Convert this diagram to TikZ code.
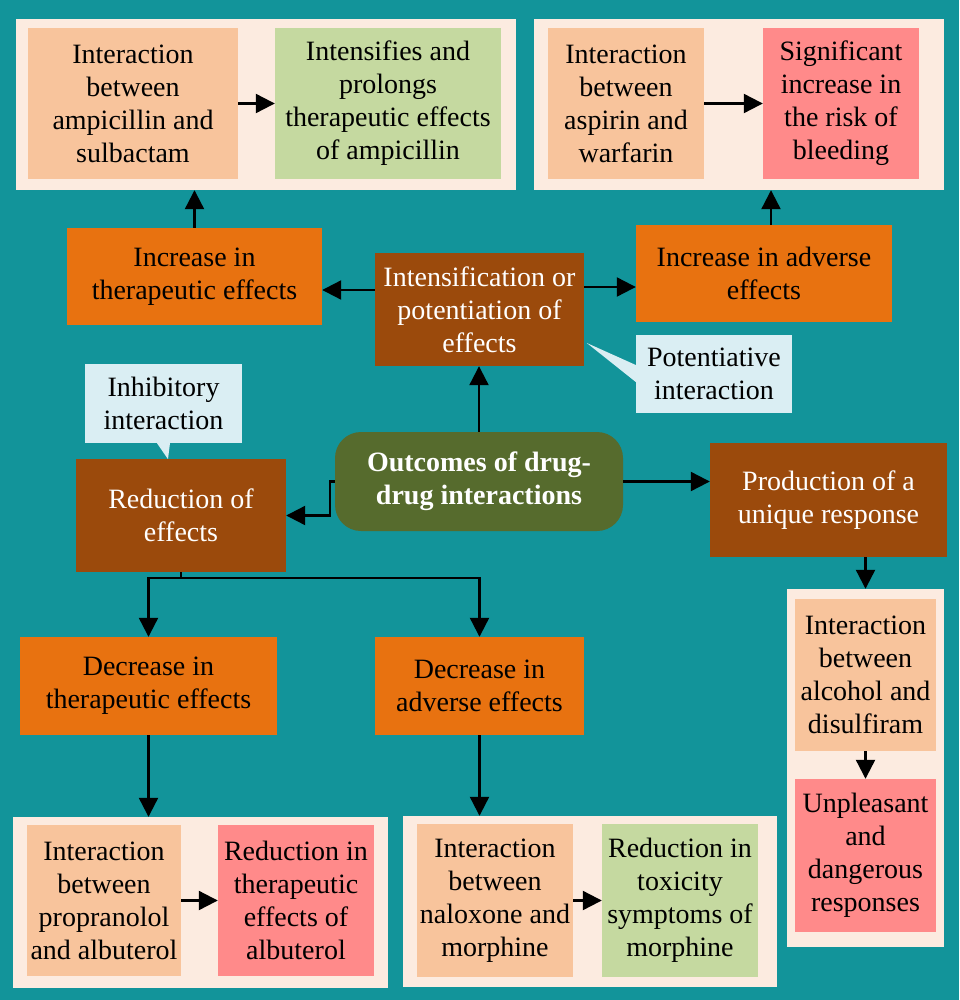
\documentclass[tikz,border=0pt]{standalone}
\usepackage{fontspec}
\setmainfont{Liberation Serif}
\usetikzlibrary{arrows.meta}
\definecolor{bgteal}{RGB}{18,148,154}
\definecolor{cream}{RGB}{252,235,224}
\definecolor{peach}{RGB}{248,196,156}
\definecolor{lgreen}{RGB}{197,217,160}
\definecolor{lpink}{RGB}{255,138,138}
\definecolor{orng}{RGB}{232,114,16}
\definecolor{brwn}{RGB}{155,74,12}
\definecolor{olive}{RGB}{86,107,45}
\definecolor{lblue}{RGB}{218,238,243}
\tikzset{
  base/.style={inner sep=0pt, align=center, font=\fontsize{28}{33}\selectfont},
  panel/.style={base, fill=cream},
  peachbox/.style={base, fill=peach, text=black},
  greenbox/.style={base, fill=lgreen, text=black},
  pinkbox/.style={base, fill=lpink, text=black},
  orangebox/.style={base, fill=orng, text=black},
  brownbox/.style={base, fill=brwn, text=white},
  centerbox/.style={base, fill=olive, text=white, rounded corners=26pt, font=\fontsize{28}{33}\selectfont\bfseries},
  callout/.style={base, fill=lblue, text=black},
  arr/.style={line width=2.2pt, -{Triangle[length=19pt,width=19pt]}},
  conn/.style={line width=2.2pt}
}
\begin{document}
\begin{tikzpicture}[x=1pt,y=-1pt]
\useasboundingbox (0,0) rectangle (959,1000);
\fill[bgteal] (0,0) rectangle (959,1000);

% panels
\node[panel, minimum width=500pt, minimum height=171pt] (P1) at (266,104.5) {};
\node[panel, minimum width=410pt, minimum height=171pt] (P2) at (739,104.5) {};
\node[panel, minimum width=157pt, minimum height=358pt] (P3) at (865.5,768) {};
\node[panel, minimum width=375pt, minimum height=171pt] (P4) at (200.5,902.5) {};
\node[panel, minimum width=374pt, minimum height=171pt] (P5) at (590,901.5) {};

% top-left panel
\node[peachbox, minimum width=210pt, minimum height=151pt] (a1) at (133,103.5) {Interaction\\between\\ampicillin and\\sulbactam};
\node[greenbox, minimum width=226pt, minimum height=151pt] (a2) at (388,103.5) {Intensifies and\\prolongs\\therapeutic effects\\of ampicillin};
% top-right panel
\node[peachbox, minimum width=156pt, minimum height=151pt] (b1) at (626,103.5) {Interaction\\between\\aspirin and\\warfarin};
\node[pinkbox, minimum width=156pt, minimum height=151pt] (b2) at (841,103.5) {Significant\\increase in\\the risk of\\bleeding};

% second row
\node[orangebox, minimum width=255pt, minimum height=97pt] (incT) at (194.5,276.5) {Increase in\\therapeutic effects};
\node[brownbox, minimum width=209pt, minimum height=113pt] (intens) at (479.5,309.5) {Intensification or\\potentiation of\\effects};
\node[orangebox, minimum width=256pt, minimum height=97pt] (incA) at (764,273.5) {Increase in adverse\\effects};

% callouts
\node[callout, minimum width=156pt, minimum height=78pt] (pot) at (714,374) {Potentiative\\interaction};
\fill[lblue] ([yshift=9pt]pot.west) -- ([xshift=-49pt,yshift=31pt]pot.west) -- ([yshift=-8pt]pot.west) -- cycle;
\node[callout, minimum width=157pt, minimum height=79pt] (inh) at (163.5,403.5) {Inhibitory\\interaction};
\fill[lblue] ([xshift=-6.5pt]inh.south) -- ([xshift=4.5pt,yshift=-16pt]inh.south) -- ([xshift=6.5pt]inh.south) -- cycle;

% middle row
\node[brownbox, minimum width=210pt, minimum height=113pt] (red) at (181,515.5) {Reduction of\\effects};
\node[centerbox, minimum width=288pt, minimum height=99pt] (out) at (479,481.5) {Outcomes of drug-\\drug interactions};
\node[brownbox, minimum width=237pt, minimum height=114pt] (prod) at (828.5,500) {Production of a\\unique response};

% lower row
\node[orangebox, minimum width=257pt, minimum height=98pt] (decT) at (148.5,686) {Decrease in\\therapeutic effects};
\node[orangebox, minimum width=209pt, minimum height=98pt] (decA) at (479.5,686) {Decrease in\\adverse effects};

% bottom panels
\node[peachbox, minimum width=154pt, minimum height=151pt] (c1) at (104,900.5) {Interaction\\between\\propranolol\\and albuterol};
\node[pinkbox, minimum width=156pt, minimum height=151pt] (c2) at (296,900.5) {Reduction in\\therapeutic\\effects of\\albuterol};
\node[peachbox, minimum width=156pt, minimum height=153pt] (d1) at (495,900.5) {Interaction\\between\\naloxone and\\morphine};
\node[greenbox, minimum width=156pt, minimum height=153pt] (d2) at (680,900.5) {Reduction in\\toxicity\\symptoms of\\morphine};
\node[peachbox, minimum width=141pt, minimum height=152pt] (e1) at (865.5,675) {Interaction\\between\\alcohol and\\disulfiram};
\node[pinkbox, minimum width=141pt, minimum height=153pt] (e2) at (865.5,855.5) {Unpleasant\\and\\dangerous\\responses};

% connectors
\draw[arr] (a1.east) -- (a2.west);
\draw[arr] (b1.east) -- (b2.west);
\draw[arr] (c1.east) -- (c2.west);
\draw[arr] (d1.east) -- (d2.west);
\draw[arr] (e1.south) -- (e2.north);
\draw[arr] (incT.north) -- (incT.north |- P1.south);
\draw[arr] ([xshift=7pt]incA.north) -- ([xshift=7pt]incA.north |- P2.south);
\draw[arr] ([yshift=19.5pt]intens.west) -- ([yshift=19.5pt]intens.west -| incT.east);
\draw[arr] ([yshift=22.5pt]intens.east) -- ([yshift=22.5pt]intens.east -| incA.west);
\draw[arr] (out.north) -- (out.north |- intens.south);
\draw[arr] (out.west) -- ++(-5,0) |- (red.east);
\draw[arr] (out.east) -- (out.east -| prod.west);
\draw[arr] (prod.south -| P3.north) -- (P3.north);
\draw[conn] (red.south) -- ++(0,6) coordinate (j);
\draw[conn] ([xshift=-1.1pt]j -| decT.north) -- ([xshift=1.1pt]j -| decA.north);
\draw[arr] (j -| decT.north) -- (decT.north);
\draw[arr] (j -| decA.north) -- (decA.north);
\draw[arr] (decT.south) -- (decT.south |- P4.north);
\draw[arr] (decA.south) -- (decA.south |- P5.north);
\end{tikzpicture}
\end{document}
